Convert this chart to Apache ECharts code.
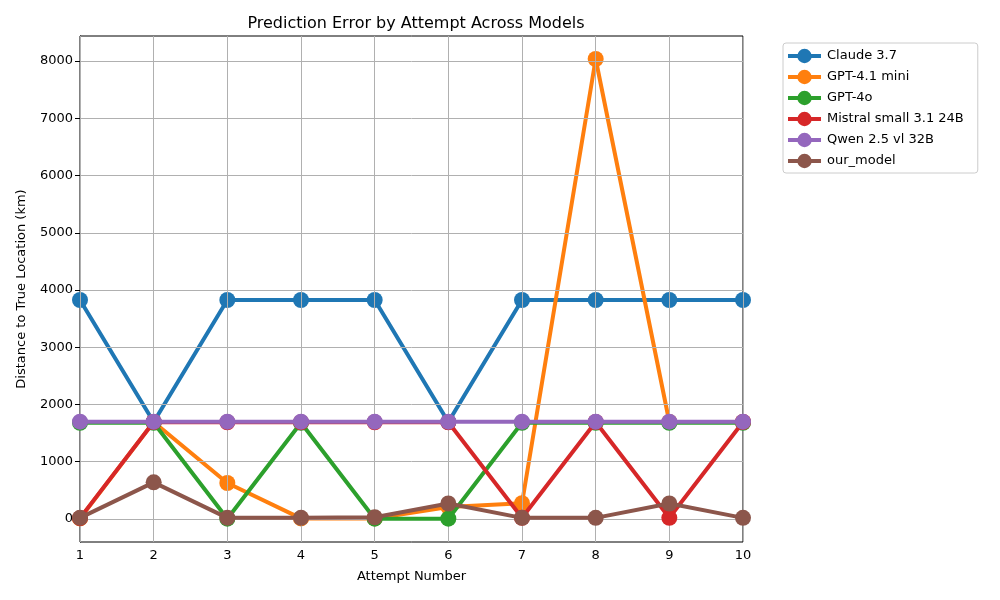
<!DOCTYPE html>
<html>
<head>
<meta charset="utf-8">
<script src="https://cdn.jsdelivr.net/npm/echarts@6/dist/echarts.min.js"></script>
<style>html,body{margin:0;padding:0;background:#fff}#c{width:1000px;height:600px}</style>
</head>
<body>
<div id="c"></div>
<script>
const attempts = [1,2,3,4,5,6,7,8,9,10];
const models = ["Claude 3.7","GPT-4.1 mini","GPT-4o","Mistral small 3.1 24B","Qwen 2.5 vl 32B","our_model"];
const claude  = [3825,1694,3825,3825,3825,1694,3825,3825,3825,3825];
const gpt41mini = [10,1694,629,10,10,210,275,8035,1694,1694];
const gpt4o   = [1680,1680,5,1680,5,5,1680,1680,1680,1680];
const mistral = [15,1694,1690,1690,1690,1690,20,1694,20,1694];
const qwen    = [1700,1700,1700,1700,1700,1700,1700,1700,1700,1700];
const ourModel = [20,640,20,20,30,270,20,20,270,20];
const yTicks = [0,1000,2000,3000,4000,5000,6000,7000,8000];
const colors = ["#1f77b4","#ff7f0e","#2ca02c","#d62728","#9467bd","#8c564b"];
const seriesData = [claude,gpt41mini,gpt4o,mistral,qwen,ourModel];

const font = "DejaVu Sans";
const series = models.map((m,i)=>({
  name:m,type:'line',
  data:attempts.map((a,j)=>[a,seriesData[i][j]]),
  symbol:'circle',symbolSize:16,showSymbol:true,
  lineStyle:{width:4,color:colors[i]},
  itemStyle:{color:colors[i]},
  z:3+i
}));
series.push({
  name:'grid',type:'line',data:[],z:1,silent:true,
  markLine:{
    silent:true,symbol:'none',label:{show:false},
    lineStyle:{color:'#b0b0b0',width:1,type:'solid'},
    data:yTicks.map(v=>({yAxis:v})).concat(attempts.map(a=>({xAxis:a})))
  }
});
const chart = echarts.init(document.getElementById('c'));
chart.setOption({
  animation:false,
  textStyle:{fontFamily:font},
  title:{text:"Prediction Error by Attempt Across Models",left:411,top:11,textAlign:'center',
    textStyle:{fontFamily:font,fontSize:16,fontWeight:'normal',color:'#000'}},
  legend:{
    orient:'vertical',left:783,top:43,
    data:models,
    itemWidth:33,itemHeight:18,itemGap:3,
    padding:[4,14,3,3],
    borderColor:'#cccccc',borderWidth:1,borderRadius:3,
    lineStyle:{width:4},
    textStyle:{fontFamily:font,fontSize:13,color:'#000',padding:[0,0,0,1],lineHeight:18}
  },
  grid:{left:80,right:257,top:36,bottom:58,show:true,borderColor:'#000',borderWidth:1,backgroundColor:'transparent'},
  xAxis:{
    type:'value',min:1,max:10,interval:1,
    name:'Attempt Number',nameLocation:'middle',nameGap:28,
    nameTextStyle:{fontFamily:font,fontSize:13,color:'#000'},
    axisLine:{show:true,lineStyle:{color:'#000'}},
    axisTick:{show:true,length:5,lineStyle:{color:'#000'}},
    axisLabel:{fontFamily:font,fontSize:13,color:'#000',margin:7},
    splitLine:{show:false}
  },
  yAxis:{
    type:'value',min:-402,max:8437,
    name:'Distance to True Location (km)',nameLocation:'middle',nameGap:52,nameRotate:90,
    nameTextStyle:{fontFamily:font,fontSize:13,color:'#000'},
    axisLine:{show:true,lineStyle:{color:'#000'}},
    axisTick:{show:true,length:5,lineStyle:{color:'#000'},customValues:yTicks},
    axisLabel:{fontFamily:font,fontSize:13,color:'#000',margin:7,customValues:yTicks,formatter:v=>String(v)},
    splitLine:{show:false}
  },
  series:series
});
</script>
</body>
</html>
